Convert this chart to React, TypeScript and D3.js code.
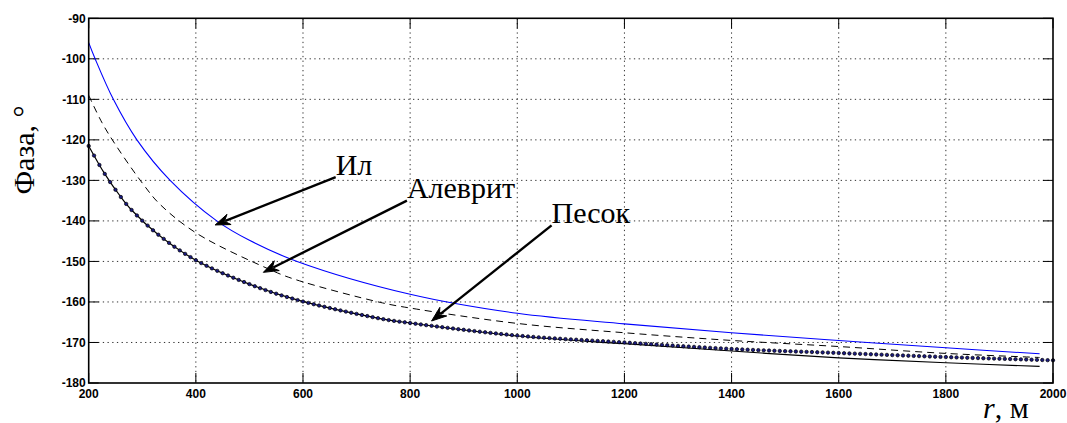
import { useEffect, useRef, useState } from "react";
import * as d3 from "d3";

// r, m
const ilR = [200, 212, 246, 290, 352, 439, 500, 589, 800, 1000, 1200, 1400, 1600, 1800, 1975];
const ilPhase = [-96, -100, -110, -120, -130, -140, -144.8, -150, -158.1, -162.8, -165.4, -167.6, -169.5, -171.3, -172.8];

const alevR = [200, 225, 252, 302, 333, 402, 533, 582, 744, 800, 1000, 1200, 1400, 1600, 1800, 1975];
const alevPhase = [-109, -115.8, -121.6, -131, -135.9, -143.1, -151.7, -154.3, -160.1, -161.5, -165.3, -167.6, -169.5, -171, -172.7, -173.7];

const solidR = [200, 230, 260, 280, 330, 400, 500, 589, 744, 800, 1000, 1200, 1400, 1600, 1800, 1975];
const solidPhase = [-121.5, -128.4, -134.1, -137.3, -143.4, -149.7, -155.6, -159.5, -164.1, -165.2, -168.4, -170.3, -172.1, -173.8, -175, -175.9];

const pesokR = [200, 230, 260, 280, 330, 400, 500, 589, 744, 800, 1000, 1200, 1400, 1600, 1800, 2000];
const pesokPhase = [-121.5, -128.4, -134.1, -137.3, -143.4, -149.7, -155.6, -159.5, -164.1, -165.2, -168.3, -170, -171.6, -172.6, -173.6, -174.4];
const pesokMarkerStep = 10; // m between markers

const xTicks = [200, 400, 600, 800, 1000, 1200, 1400, 1600, 1800, 2000];
const yTicks = [-90, -100, -110, -120, -130, -140, -150, -160, -170, -180];

// annotations: label, text anchor (r, phase), arrow tail, arrow tip
const notes = [
  { label: "Ил", tx: 661, ty: -128.6, from: [661, -129.2], to: [436, -141] },
  { label: "Алеврит", tx: 794, ty: -134.3, from: [794, -135], to: [526, -152.7] },
  { label: "Песок", tx: 1064, ty: -140.6, from: [1064, -141.1], to: [840, -164.7] },
];

const W = 1067;
const H = 423;
const L = 88.7, R = 1053, T = 18.3, B = 383;

const serif = "'Liberation Serif', 'Times New Roman', Tinos, 'DejaVu Serif', serif";
const sans = "'Liberation Sans', Arial, Helvetica, sans-serif";

export default function App() {
  const x = d3.scaleLinear().domain([200, 2000]).range([L, R]);
  const y = d3.scaleLinear().domain([-180, -90]).range([B, T]);
  const pesokRef = useRef<SVGPathElement>(null);
  const [dots, setDots] = useState<[number, number][]>([]);

  const line = (rs: number[], ps: number[]) =>
    d3.line<number>().x((_, i) => x(rs[i])).y((d) => y(d)).curve(d3.curveCatmullRom.alpha(0.5))(ps) as string;

  // place markers at equal r steps along the drawn Песок curve
  useEffect(() => {
    const p = pesokRef.current;
    if (!p) return;
    const total = p.getTotalLength();
    const out: [number, number][] = [];
    for (let r = 200; r <= 2000; r += pesokMarkerStep) {
      const tx = x(r);
      let lo = 0, hi = total;
      for (let k = 0; k < 30; k++) {
        const mid = (lo + hi) / 2;
        if (p.getPointAtLength(mid).x < tx) lo = mid; else hi = mid;
      }
      const pt = p.getPointAtLength((lo + hi) / 2);
      out.push([pt.x, pt.y]);
    }
    setDots(out);
  }, []);

  const arrowHead = (x1: number, y1: number, x2: number, y2: number) => {
    const a = Math.atan2(y2 - y1, x2 - x1);
    const len = 15, hw = 5.5, notch = 10;
    const ca = Math.cos(a), sa = Math.sin(a);
    const bx = x2 - len * ca, by = y2 - len * sa;
    const nx = x2 - notch * ca, ny = y2 - notch * sa;
    return `M${x2},${y2}L${bx - hw * sa},${by + hw * ca}L${nx},${ny}L${bx + hw * sa},${by - hw * ca}Z`;
  };

  return (
    <svg width={W} height={H} style={{ position: "absolute", left: 0, top: 0, background: "#fff" }}>
      <rect x={0} y={0} width={W} height={H} fill="#fff" />
      {/* grid */}
      <g stroke="#333" strokeWidth={1} strokeDasharray="1.3,3.4">
        {xTicks.slice(1, -1).map((t) => (
          <line key={"gx" + t} x1={x(t)} x2={x(t)} y1={T} y2={B} />
        ))}
        {yTicks.slice(1, -1).map((t) => (
          <line key={"gy" + t} x1={L} x2={R} y1={y(t)} y2={y(t)} />
        ))}
      </g>
      {/* ticks */}
      <g stroke="#000" strokeWidth={1}>
        {xTicks.map((t) => (
          <g key={"tx" + t}>
            <line x1={x(t)} x2={x(t)} y1={B} y2={B - 10} />
            <line x1={x(t)} x2={x(t)} y1={T} y2={T + 10} />
          </g>
        ))}
        {yTicks.map((t) => (
          <g key={"ty" + t}>
            <line x1={L} x2={L + 10} y1={y(t)} y2={y(t)} />
            <line x1={R} x2={R - 10} y1={y(t)} y2={y(t)} />
          </g>
        ))}
      </g>
      {/* curves */}
      <path d={line(ilR, ilPhase)} fill="none" stroke="#0000ff" strokeWidth={1.1} />
      <path d={line(alevR, alevPhase)} fill="none" stroke="#000" strokeWidth={1} strokeDasharray="7,5" />
      <path d={line(solidR, solidPhase)} fill="none" stroke="#000" strokeWidth={1.2} />
      <path ref={pesokRef} d={line(pesokR, pesokPhase)} fill="none" stroke="none" />
      <g fill="#1a1a80" stroke="#000" strokeWidth={0.7}>
        {dots.map((d, i) => (
          <circle key={i} cx={d[0]} cy={d[1]} r={1.7} />
        ))}
      </g>
      {/* frame */}
      <rect x={L} y={T} width={R - L} height={B - T} fill="none" stroke="#000" strokeWidth={1.6} />
      {/* tick labels */}
      <g style={{ fontFamily: sans, fontWeight: 700, fontSize: "12px" }} fill="#000">
        {yTicks.map((t) => (
          <text key={"ly" + t} x={L - 3} y={y(t) + 4.3} textAnchor="end">{t}</text>
        ))}
        {xTicks.map((t) => (
          <text key={"lx" + t} x={x(t)} y={B + 14.5} textAnchor="middle">{t}</text>
        ))}
      </g>
      {/* annotations */}
      <g style={{ fontFamily: serif, fontSize: "30px" }}>
        {notes.map((n) => {
          const x1 = x(n.from[0]), y1 = y(n.from[1]), x2 = x(n.to[0]), y2 = y(n.to[1]);
          const a = Math.atan2(y2 - y1, x2 - x1);
          return (
            <g key={n.label}>
              <line x1={x1} y1={y1} x2={x2 - 11 * Math.cos(a)} y2={y2 - 11 * Math.sin(a)} stroke="#000" strokeWidth={2.4} />
              <path d={arrowHead(x1, y1, x2, y2)} fill="#000" stroke="#000" strokeWidth={1} />
              <text x={x(n.tx)} y={y(n.ty)} fill="#000">{n.label}</text>
            </g>
          );
        })}
        {/* axis labels */}
        <text transform="translate(34,150) rotate(-90)" textAnchor="middle" fill="#000">
          Фаза, °
        </text>
        <text x={983} y={418} fill="#000">
          <tspan style={{ fontStyle: "italic" }}>r</tspan>, м
        </text>
      </g>
    </svg>
  );
}
